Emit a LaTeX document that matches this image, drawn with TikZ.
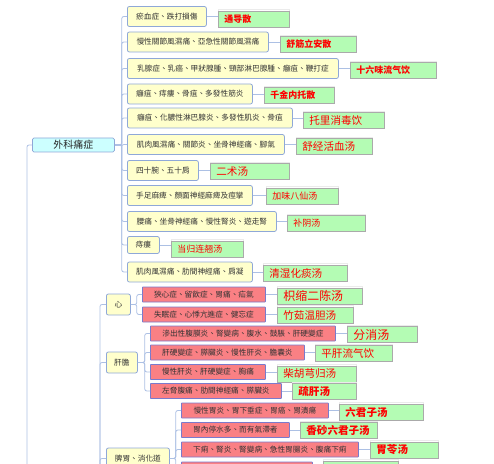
\documentclass[tikz,border=0pt]{standalone}
\usepackage{fontspec}
\usepackage{xcolor}
\usepackage{tikz}
\usetikzlibrary{calc, positioning}

\newfontfamily\tcfont{Noto Sans CJK TC}
\newfontfamily\scfont{Noto Sans CJK SC}

\definecolor{lineblue}{RGB}{172,192,228}
\definecolor{yfill}{RGB}{255,255,204}
\definecolor{ydraw}{RGB}{143,168,216}
\definecolor{cfill}{RGB}{204,255,255}
\definecolor{pfill}{RGB}{250,128,132}
\definecolor{pdraw}{RGB}{122,122,204}
\definecolor{gfill}{RGB}{180,252,180}
\definecolor{gdraw}{RGB}{170,170,170}

\begin{document}
\begin{tikzpicture}[x=1bp, y=-1bp,
    lian/.style={draw=lineblue, line width=0.8bp, rounded corners=2bp},
    goc/.style={draw=ydraw, fill=cfill, line width=0.8bp, rounded corners=1.5bp,
        anchor=west, minimum height=14bp, inner sep=1bp,
        font=\tcfont\fontsize{10}{11}\selectfont, text=black!85},
    zheng/.style={draw=ydraw, fill=yfill, line width=0.8bp, rounded corners=2bp,
        anchor=west, minimum height=20bp, inner sep=1bp,
        font=\tcfont\fontsize{7.7}{9}\selectfont, text=black!80},
    bing/.style={draw=pdraw, fill=pfill, line width=0.8bp, rounded corners=0.5bp,
        anchor=west, minimum height=15bp, inner sep=1bp,
        font=\tcfont\fontsize{7.7}{9}\selectfont, text=black!80},
    fang/.style={draw=gdraw, fill=gfill, line width=0.8bp,
        preaction={draw=black!8, line width=0.5bp, transform canvas={yshift=1.5bp}},
        anchor=west, minimum height=16bp, inner xsep=6bp, inner ysep=0bp,
        align=left, text width=#1, text=red},
    cub/.style={font=\scfont\bfseries\fontsize{9}{10}\selectfont},
    nhs/.style={font=\scfont\fontsize{9}{10}\selectfont},
    nhm/.style={font=\scfont\fontsize{10.6}{11}\selectfont},
    nhl/.style={font=\scfont\fontsize{12}{13}\selectfont},
    cum/.style={font=\scfont\bfseries\fontsize{10.6}{11}\selectfont}]
    \useasboundingbox (0,0) rectangle (494,464);

    % Nút gốc
    \node[goc, minimum width=82bp] (root) at (32,145) {外科痛症};
    \coordinate (t0) at (27,470);
    \coordinate (t1) at (100,470);
    \draw[lian] (root.west) -| (t0);

    % Các chứng
    \node[zheng, minimum width=79bp]  (r1)  at (127,16.5)  {瘀血症、跌打損傷};
    \node[zheng, minimum width=141bp] (r2)  at (127,42)    {慢性關節風濕痛、亞急性關節風濕痛};
    \node[zheng, minimum width=211bp] (r3)  at (127,68.5)  {乳腺症、乳癌、甲狀腺腫、頸部淋巴腺腫、癰疽、鞭打症};
    \node[zheng, minimum width=125bp] (r4)  at (127,94)    {癰疽、痔瘻、骨疽、多發性筋炎};
    \node[zheng, minimum width=165bp] (r5)  at (127,118)   {癰疽、化膿性淋巴腺炎、多發性肌炎、骨疽};
    \node[zheng, minimum width=157bp] (r6)  at (127,144.5) {肌肉風濕痛、關節炎、坐骨神經痛、腳氣};
    \node[zheng, minimum width=71bp]  (r7)  at (127,170.5) {四十腕、五十肩};
    \node[zheng, minimum width=125bp] (r8)  at (127,195.5) {手足麻痺、顏面神經麻痺及痙攣};
    \node[zheng, minimum width=149bp] (r9)  at (127,221.5) {腰痛、坐骨神經痛、慢性腎炎、遊走腎};
    \node[zheng, minimum width=32bp, minimum height=17bp] (r10) at (127,245) {痔瘻};
    \node[zheng, minimum width=125bp] (r11) at (127,272)   {肌肉風濕痛、肋間神經痛、肩凝};

    % Các bài thuốc
    \node[fang=59bp, cub] (f1)  at (218,19)    {通导散};
    \node[fang=64bp, cub] (f2)  at (280,44.5)  {舒筋立安散};
    \node[fang=74bp, cub] (f3)  at (350,70.5)  {十六味流气饮};
    \node[fang=58bp, cub] (f4)  at (264,95.5)  {千金内托散};
    \node[fang=69bp, nhm] (f5)  at (303,120.5) {托里消毒饮};
    \node[fang=64bp, nhm] (f6)  at (296,146.5) {舒经活血汤};
    \node[fang=67bp, nhm] (f7)  at (210,171.5) {二术汤};
    \node[fang=60bp, nhs] (f8)  at (266,196)   {加味八仙汤};
    \node[fang=66bp, nhs] (f9)  at (287,223.5) {补阴汤};
    \node[fang=60bp, nhs] (f10) at (171,249)   {当归连翘汤};
    \node[fang=72bp, nhm] (f11) at (263,273)   {清湿化痰汤};

    \foreach \i in {1,...,11} {
        \draw[lian] (root.east) -- ++(7,0) |- (r\i.west);
        \draw[lian] (r\i.east) -- (r\i.east -| f\i.west);
    }

    % Tâm
    \node[zheng, minimum width=24bp, minimum height=21bp] (xin) at (106,304.5) {心};
    \node[bing, minimum width=123bp] (p1) at (142,294.5) {狹心症、留飲症、胃痛、疝氣};
    \node[bing, minimum width=123bp] (p2) at (142,314.5) {失眠症、心悸亢進症、健忘症};
    \node[fang=73bp, nhl] (k1) at (277,296) {枳缩二陈汤};
    \node[fang=64bp, nhm] (k2) at (277,315) {竹茹温胆汤};

    % Can đởm
    \node[zheng, minimum width=31bp, minimum height=21bp] (gan) at (106,362.5) {肝膽};
    \node[bing, minimum width=185bp] (p3) at (150,333.5) {滲出性腹膜炎、腎變病、腹水、鼓脹、肝硬變症};
    \node[bing, minimum width=154bp] (p4) at (150,352.5) {肝硬變症、膵臟炎、慢性肝炎、膽囊炎};
    \node[bing, minimum width=115bp] (p5) at (150,372)   {慢性肝炎、肝硬變症、胸痛};
    \node[bing, minimum width=131bp] (p6) at (150,391)   {左脅腹痛、肋間神經痛、膵臟炎};
    \node[fang=58bp, nhl] (k3) at (347,334.5) {分消汤};
    \node[fang=65bp, nhm] (k4) at (315,353.5) {平肝流气饮};
    \node[fang=67bp, nhm] (k5) at (277,374)   {柴胡芎归汤};
    \node[fang=52bp, cum] (k6) at (292,391.5) {疏肝汤};

    % Tỳ vị
    \node[zheng, minimum width=63bp, minimum height=21bp] (pi) at (106,458.5) {脾胃、消化道};
    \node[bing, minimum width=147bp] (p7)  at (181,410.5) {慢性胃炎、胃下垂症、胃癌、胃潰瘍};
    \node[bing, minimum width=108bp] (p8)  at (181,430)   {胃內停水多、而有氣滯者};
    \node[bing, minimum width=177bp] (p9)  at (181,449.5) {下痢、腎炎、腎變病、急性胃腸炎、腹痛下痢};
    \node[bing, minimum width=131bp] (p10) at (181,469.5) {};
    \node[fang=72bp, cum] (k7)  at (339,412)   {六君子汤};
    \node[fang=65bp, cum] (k8)  at (300,430.5) {香砂六君子汤};
    \node[fang=56bp, cum] (k9)  at (370,450)   {胃苓汤};
    \node[fang=63bp, cum] (k10) at (323,469)   {};

    \draw[lian] (t1) |- (xin.west);
    \draw[lian] (t1) |- (gan.west);
    \draw[lian] (t1) |- (pi.west);
    \foreach \i in {1,2}
        \draw[lian] (xin.east) -- ++(6,0) |- (p\i.west);
    \foreach \i in {3,...,6}
        \draw[lian] (gan.east) -- ++(7,0) |- (p\i.west);
    \foreach \i in {7,...,10}
        \draw[lian] (pi.east) -- ++(6,0) |- (p\i.west);
    \foreach \i in {1,...,10}
        \draw[lian] (p\i.east) -- (p\i.east -| k\i.west);

\end{tikzpicture}
\end{document}
